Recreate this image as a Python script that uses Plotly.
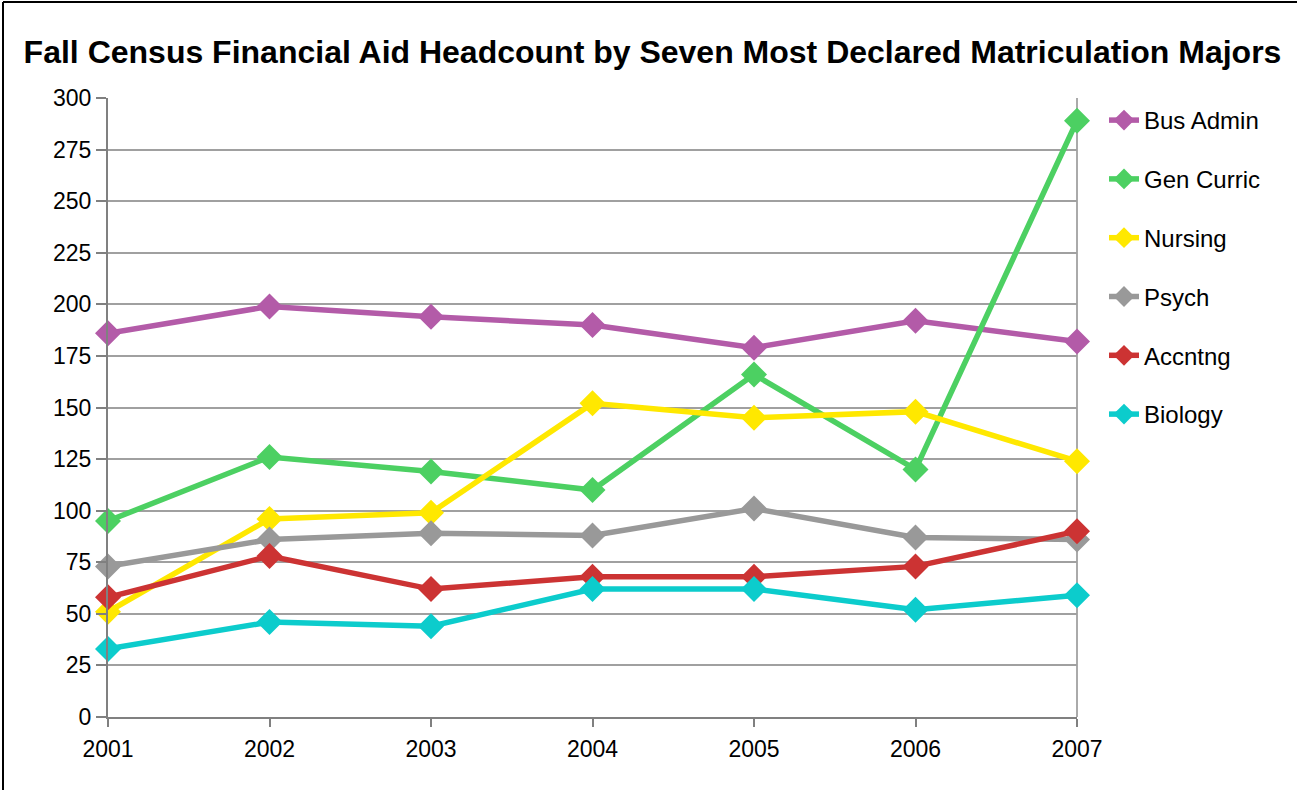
import plotly.graph_objects as go

years = [2001, 2002, 2003, 2004, 2005, 2006, 2007]
bus_admin = [186, 199, 194, 190, 179, 192, 182]
gen_curric = [95, 126, 119, 110, 166, 120, 289]
nursing = [51, 96, 99, 152, 145, 148, 124]
psych = [73, 86, 89, 88, 101, 87, 86]
accntng = [58, 78, 62, 68, 68, 73, 90]
biology = [33, 46, 44, 62, 62, 52, 59]

series_names = ["Bus Admin", "Gen Curric", "Nursing", "Psych", "Accntng", "Biology"]
series_values = [bus_admin, gen_curric, nursing, psych, accntng, biology]
series_colors = ["#B35BA8", "#4CD062", "#FFE800", "#999999", "#CC3333", "#0CCCCC"]

fig = go.Figure()
for name, vals, col in zip(series_names, series_values, series_colors):
    fig.add_trace(go.Scatter(
        x=years, y=vals, name=name, mode="lines+markers",
        line=dict(color=col, width=5.5),
        marker=dict(symbol="diamond", size=20, color=col),
        cliponaxis=False, legendgroup=name,
    ))

W, H = 1297, 790
L, R, T, B = 108, 220, 98, 73
pw, ph = W - L - R, H - T - B

fig.update_layout(
    width=W, height=H,
    margin=dict(l=L, r=R, t=T, b=B),
    paper_bgcolor="white", plot_bgcolor="white",
    font=dict(family="Liberation Sans, Arial, sans-serif", color="black"),
    title=dict(text="<b>Fall Census Financial Aid Headcount by Seven Most Declared Matriculation Majors</b>",
               x=652.5 / W, xref="container", xanchor="center", y=1 - 52 / H, yanchor="middle",
               font=dict(size=32, color="black")),
    legend=dict(x=1 + (1104 - 1077) / pw, xanchor="left", y=1.0, yanchor="top",
                font=dict(size=24), tracegroupgap=24.6, itemwidth=30, bgcolor="rgba(0,0,0,0)"),
    showlegend=True,
)
fig.update_xaxes(
    range=[2001, 2007], tickvals=years, ticktext=[str(y) for y in years],
    showgrid=False, showline=True, linecolor="#808080", linewidth=2,
    ticks="outside", ticklen=8, tickwidth=2, tickcolor="#808080",
    tickfont=dict(size=23), zeroline=False, ticklabelstandoff=2,
)
fig.update_yaxes(
    range=[0, 300], dtick=25, tick0=0,
    showgrid=True, gridcolor="#A0A0A0", gridwidth=1.5,
    showline=True, linecolor="#808080", linewidth=2,
    ticks="outside", ticklen=10, tickwidth=2, tickcolor="#808080",
    tickfont=dict(size=23), zeroline=False, ticklabelstandoff=0,
)
# right vertical boundary of plot area
fig.add_shape(type="line", xref="paper", yref="paper", x0=1, x1=1, y0=0, y1=1,
              line=dict(color="#AAAAAA", width=2), layer="below")
# outer frame (left and top)
fx = (3 - L) / pw
fy = 1 + (T - 2) / ph
fig.add_shape(type="line", xref="paper", yref="paper", x0=fx, x1=fx, y0=fy, y1=-0.3,
              line=dict(color="black", width=2))
fig.add_shape(type="line", xref="paper", yref="paper", x0=fx, x1=1.4, y0=fy, y1=fy,
              line=dict(color="black", width=2))

fig.write_html("out.html", config={"displayModeBar": False},
               post_script="document.body.style.margin='0';document.body.style.overflow='hidden';")
